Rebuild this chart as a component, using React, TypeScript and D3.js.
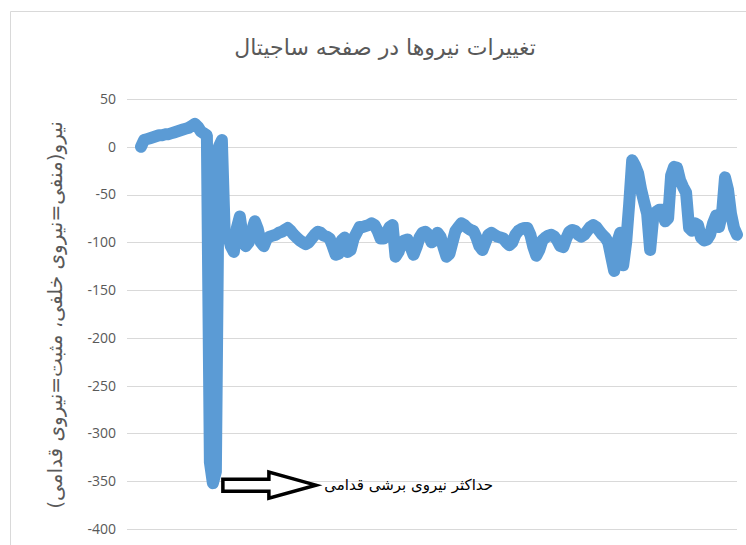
import { useEffect, useRef } from "react"
import * as d3 from "d3"

// sagittal force samples (N)
const forceValues = [
  0, 7, 8, 9, 10, 11, 12, 12, 13, 13, 14, 15, 16, 17, 18, 19, 20, 22, 24, 21, 16, 14,
  12, -330, -352, -340, 0, 7,
  -95, -92, -104, -110, -85, -73, -95, -104, -100, -88, -78, -86, -100, -104, -96, -94,
  -93, -92, -90, -89, -87, -85, -88, -92, -95, -98, -100, -102, -100, -96, -92, -89,
  -90, -93, -94, -96, -104, -113, -112, -98, -95, -110, -108, -96, -90, -84, -84, -83,
  -82, -80, -82, -88, -96, -96, -90, -84, -82, -115, -110,
  -100, -98, -97, -105, -113, -105, -95, -90, -89, -92, -100, -98, -90, -94, -105, -115,
  -112, -100, -88, -84, -80, -82, -85, -87, -88, -95, -104, -108, -100, -92, -90, -92,
  -94, -95, -96, -100, -103, -100, -92, -88, -86, -85, -85, -92, -105, -114, -108, -98,
  -95, -93, -92, -94, -98, -104, -105, -96, -89, -87, -88, -92, -94, -92, -88, -84,
  -82, -84, -88, -92, -95, -100, -115, -130, -100, -90,
  -124, -100, -60, -14, -20, -28, -45, -58, -70, -108, -75, -68, -66, -66, -78, -75,
  -30, -21, -22, -35, -42, -48, -85, -88, -80, -82, -95, -98, -97, -92, -80, -72,
  -84, -70, -32, -45, -70, -85, -92,
]

const yTicks = [50, 0, -50, -100, -150, -200, -250, -300, -350, -400]

const chartTitle = "تغییرات نیروها در صفحه ساجیتال"
const yAxisTitle = "نیرو(منفی=نیروی خلفی، مثبت=نیروی قدامی)"
const annotationText = "حداکثر نیروی برشی قدامی"

export default function App() {
  const svgRef = useRef<SVGSVGElement>(null)

  useEffect(() => {
    if (!svgRef.current) return
    const svg = d3.select(svgRef.current)
    svg.selectAll("*").remove()

    const width = 746
    const height = 545
    const plot = { left: 127, right: 737, top: 99, bottom: 529 }

    const xScale = d3
      .scaleLinear()
      .domain([0, forceValues.length - 1])
      .range([141, 737])

    const yScale = d3.scaleLinear().domain([-400, 50]).range([plot.bottom, plot.top])

    // chart frame (only left and top edges are visible)
    svg
      .append("path")
      .attr("d", `M10.5,${height} V11.5 H${width}`)
      .attr("fill", "none")
      .attr("stroke", "#d9d9d9")
      .attr("stroke-width", 1)

    // title
    svg
      .append("text")
      .attr("x", 385)
      .attr("y", 55)
      .attr("text-anchor", "middle")
      .attr("fill", "#595959")
      .style("font-family", "'DejaVu Sans', serif")
      .style("font-size", "22px")
      .text(chartTitle)

    // gridlines
    svg
      .append("g")
      .selectAll("line")
      .data(yTicks)
      .join("line")
      .attr("x1", plot.left)
      .attr("x2", plot.right)
      .attr("y1", (d) => Math.round(yScale(d)) + 0.5)
      .attr("y2", (d) => Math.round(yScale(d)) + 0.5)
      .attr("stroke", "#d9d9d9")
      .attr("stroke-width", 1)

    // y tick labels
    svg
      .append("g")
      .selectAll("text")
      .data(yTicks)
      .join("text")
      .attr("x", 116)
      .attr("y", (d) => yScale(d))
      .attr("dy", "0.35em")
      .attr("text-anchor", "end")
      .attr("fill", "#595959")
      .style("font-family", "'Open Sans', sans-serif")
      .style("font-size", "14px")
      .text((d) => String(d))

    // y axis title
    svg
      .append("text")
      .attr("transform", `translate(55, ${(plot.top + plot.bottom) / 2 + 1}) rotate(-90)`)
      .attr("text-anchor", "middle")
      .attr("dy", "0.35em")
      .attr("fill", "#595959")
      .style("font-family", "'DejaVu Sans', sans-serif")
      .style("font-size", "20px")
      .text(yAxisTitle)

    // force line
    const line = d3
      .line<number>()
      .x((_, i) => xScale(i))
      .y((d) => yScale(d))

    svg
      .append("path")
      .datum(forceValues)
      .attr("fill", "none")
      .attr("stroke", "#5b9bd5")
      .attr("stroke-width", 12)
      .attr("stroke-linejoin", "round")
      .attr("stroke-linecap", "round")
      .attr("d", line)

    // annotation arrow pointing at the minimum
    const minIdx = d3.minIndex(forceValues)
    const ax = xScale(minIdx) + 10
    const ay = yScale(forceValues[minIdx]) + 2
    const arrow = [
      [ax, ay - 6],
      [ax + 46, ay - 6],
      [ax + 46, ay - 13],
      [ax + 93, ay],
      [ax + 46, ay + 13],
      [ax + 46, ay + 6],
      [ax, ay + 6],
    ]
    svg
      .append("polygon")
      .attr("points", arrow.map((p) => p.join(",")).join(" "))
      .attr("fill", "white")
      .attr("stroke", "black")
      .attr("stroke-width", 3.5)

    svg
      .append("text")
      .attr("x", 493)
      .attr("y", ay)
      .attr("dy", "0.35em")
      .attr("text-anchor", "end")
      .attr("fill", "black")
      .style("font-family", "'DejaVu Sans', sans-serif")
      .style("font-size", "15px")
      .text(annotationText)
  }, [])

  return (
    <svg
      ref={svgRef}
      width={746}
      height={545}
      style={{ position: "absolute", left: 0, top: 0, background: "white" }}
    />
  )
}
